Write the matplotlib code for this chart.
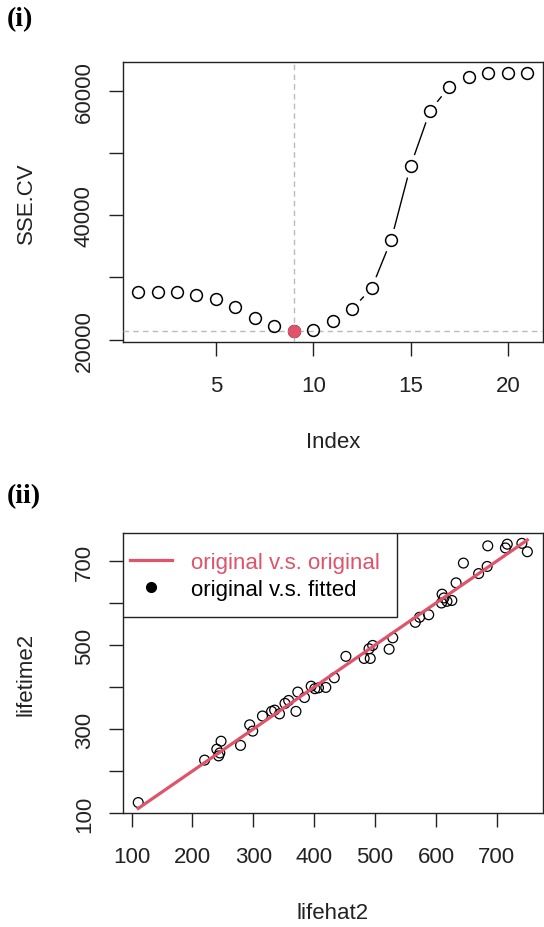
import matplotlib
matplotlib.use("Agg")
import matplotlib.pyplot as plt
from matplotlib.patches import Rectangle
from matplotlib.lines import Line2D
import numpy as np

# cross-validated SSE for each candidate index
sse_index = list(range(1, 22))
sse_cv = [27650, 27650, 27650, 27220, 26580, 25190, 23530, 22140, 21340, 21600,
          22990, 24920, 28290, 35990, 47910, 56780, 60680, 62130, 62880, 62880, 62880]

# observed vs fitted lifetimes
lifehat2 = [111, 220, 240, 247, 243, 245, 279, 294, 299, 315, 330, 335, 343, 352,
            358, 370, 373, 384, 395, 401, 407, 419, 433, 452, 482, 492, 490, 496,
            523, 529, 566, 573, 588, 609, 610, 613, 618, 626, 633, 645, 670, 684,
            685, 714, 717, 741, 750]
lifetime2 = [125, 226, 252, 271, 236, 243, 261, 310, 295, 331, 342, 345, 336, 361,
             368, 342, 388, 375, 402, 396, 398, 399, 422, 473, 468, 468, 491, 499,
             490, 517, 554, 566, 572, 600, 621, 612, 604, 606, 648, 695, 670, 687,
             736, 731, 740, 742, 722]

RED = "#DF536B"
INK = "#222222"
FS = 16

plt.rcParams["font.family"] = ["Liberation Sans", "DejaVu Sans"]
plt.rcParams["font.size"] = FS


def r_limits(vals):
    lo, hi = min(vals), max(vals)
    pad = 0.04 * (hi - lo)
    return lo - pad, hi + pad


def style_axes(ax):
    for sp in ax.spines.values():
        sp.set_color(INK)
        sp.set_linewidth(1.0)
    ax.tick_params(length=10, width=1.0, color=INK, labelcolor=INK, pad=14)
    ax.tick_params(axis="y", labelrotation=90, pad=10)
    for lab in ax.get_yticklabels():
        lab.set_verticalalignment("center")


fig = plt.figure(figsize=(5.44, 9.28), dpi=100)

# ---- (i) SSE.CV against index
ax1 = fig.add_axes([0.2252, 0.6307, 0.7728, 0.3009])
x = np.array(sse_index)
y = np.array(sse_cv)
imin = int(np.argmin(y))
ax1.plot(x, y, color="black", lw=1.0, zorder=1)
ax1.plot(x, y, ls="none", marker="o", ms=17, mfc="white", mec="none", zorder=2)
ax1.axvline(x[imin], color="#BBBBBB", lw=1.0, ls=(0, (4, 3)), zorder=3)
ax1.axhline(y[imin], color="#BBBBBB", lw=1.0, ls=(0, (4, 3)), zorder=3)
ax1.plot(x, y, ls="none", marker="o", ms=8.5, mfc="none", mec="black", mew=1.1, zorder=4)
ax1.plot(x[imin], y[imin], ls="none", marker="o", ms=8.5, mfc=RED, mec=RED, zorder=5)
ax1.set_xlim(*r_limits(sse_index))
ax1.set_ylim(*r_limits(sse_cv))
ax1.set_xticks([5, 10, 15, 20])
yt = list(range(20000, 60001, 10000))
ax1.set_yticks(yt)
ax1.set_yticklabels([str(v) if v % 20000 == 0 else "" for v in yt])
style_axes(ax1)
ax1.set_xlabel("Index", color=INK, va="center")
ax1.set_ylabel("SSE.CV", color=INK, va="center")
ax1.xaxis.set_label_coords(0.5, -0.359)
ax1.yaxis.set_label_coords(-0.2295, 0.5)

# ---- (ii) lifetime2 against lifehat2
ax2 = fig.add_axes([0.2255, 0.1228, 0.7725, 0.3018])
ax2.scatter(lifehat2, lifetime2, s=50, facecolors="none", edgecolors="black",
            linewidths=0.9, zorder=3)
xs = np.sort(np.array(lifehat2))
ax2.plot(xs, xs, color=RED, lw=2.3, zorder=4)
ax2.set_xlim(*r_limits(lifehat2))
ax2.set_ylim(*r_limits(lifetime2))
ax2.set_xticks(range(100, 701, 100))
yt2 = list(range(100, 701, 100))
ax2.set_yticks(yt2)
ax2.set_yticklabels([str(v) if v % 200 == 100 else "" for v in yt2])
style_axes(ax2)
ax2.set_xlabel("lifehat2", color=INK, va="center")
ax2.set_ylabel("lifetime2", color=INK, va="center")
ax2.xaxis.set_label_coords(0.5, -0.354)
ax2.yaxis.set_label_coords(-0.2297, 0.5)

# legend box flush with the top-left corner
ax2.add_patch(Rectangle((0, 0.70), 0.6526, 0.30, transform=ax2.transAxes,
                        facecolor="white", edgecolor=INK, lw=1.0, zorder=6))
handles = [Line2D([], [], color=RED, lw=2.3),
           Line2D([], [], ls="none", marker="o", ms=7, color="black")]
leg = ax2.legend(handles, ["original v.s. original", "original v.s. fitted"],
                 loc="upper left", bbox_to_anchor=(0.0, 0.96), frameon=False,
                 borderpad=0.35, borderaxespad=0, handlelength=1.85,
                 handletextpad=0.88, labelspacing=0.28, fontsize=FS)
leg.set_zorder(7)
leg.get_texts()[0].set_color(RED)
leg.get_texts()[1].set_color("black")

fig.text(0.012, 0.979, "(i)", family=["Liberation Serif", "DejaVu Serif"],
         weight="bold", fontsize=20, va="center", ha="left")
fig.text(0.012, 0.465, "(ii)", family=["Liberation Serif", "DejaVu Serif"],
         weight="bold", fontsize=20, va="center", ha="left")

fig.savefig("out.png", dpi=100, facecolor="white")
